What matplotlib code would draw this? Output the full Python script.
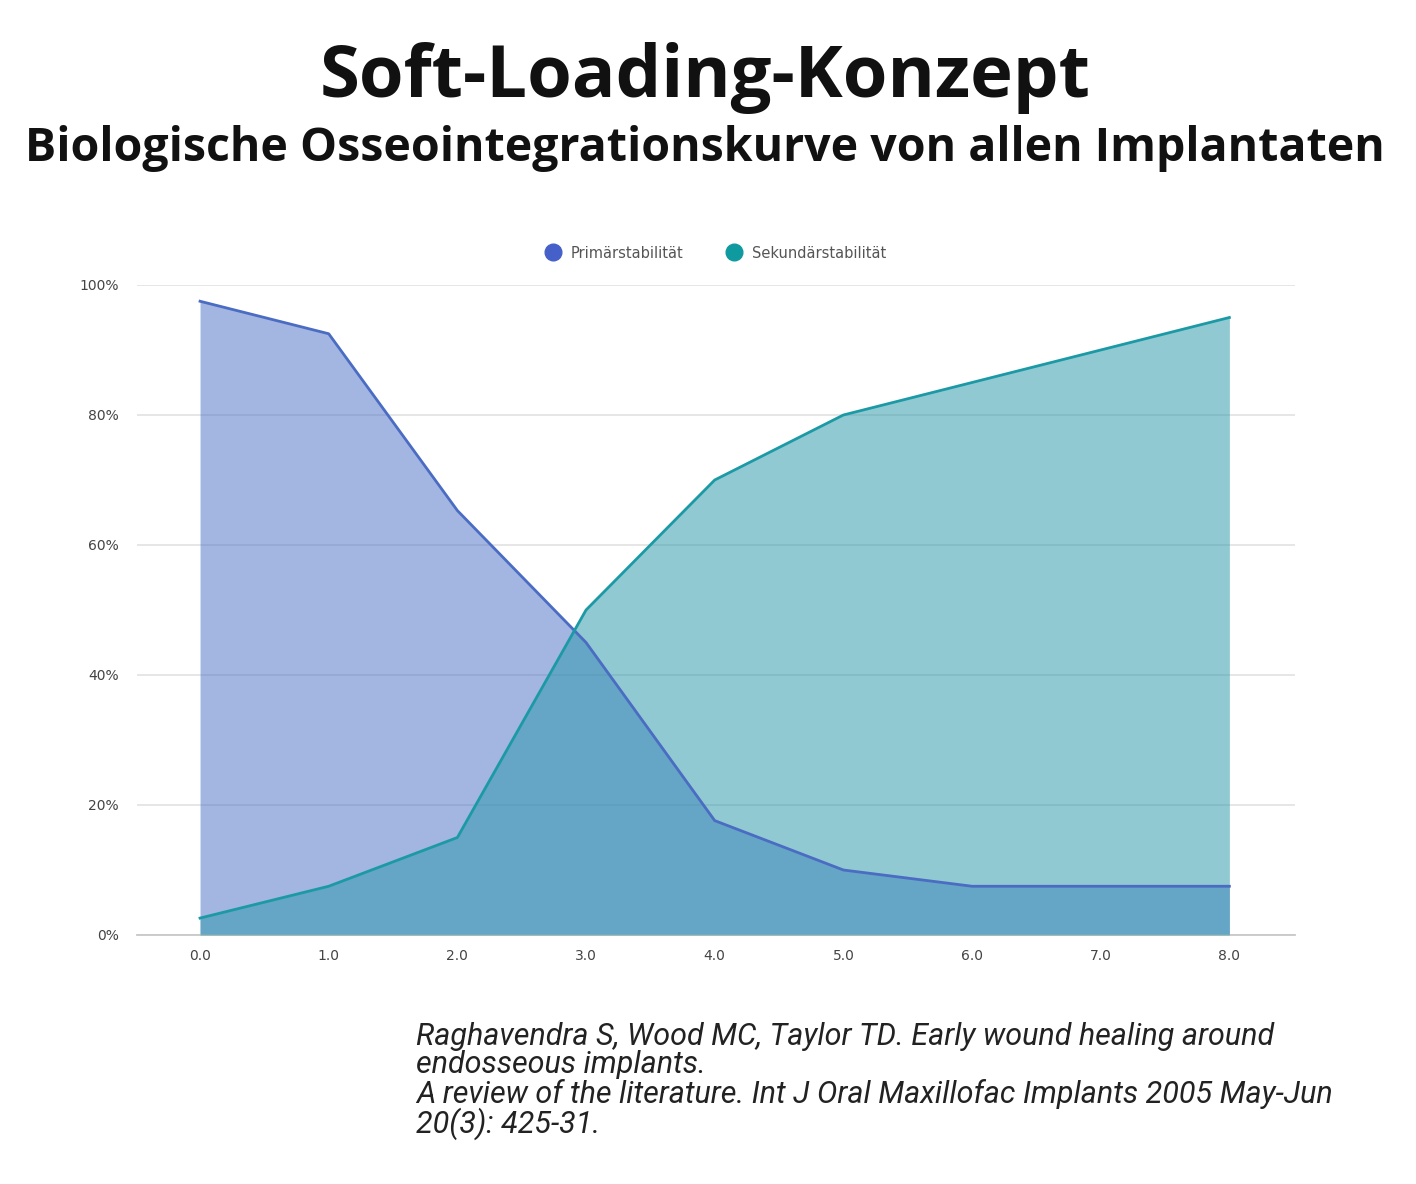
import matplotlib
matplotlib.use("Agg")
import matplotlib.pyplot as plt
from matplotlib.lines import Line2D
from matplotlib.ticker import FuncFormatter

# Data
x_vals = [0.0, 1.0, 2.0, 3.0, 4.0, 5.0, 6.0, 7.0, 8.0]
x_labels = ["0.0", "1.0", "2.0", "3.0", "4.0", "5.0", "6.0", "7.0", "8.0"]
primaer = [97.5, 92.5, 65.3, 45.0, 17.6, 10.0, 7.5, 7.5, 7.5]
sekundaer = [2.6, 7.5, 15.0, 50.0, 70.0, 80.0, 85.0, 90.0, 95.0]
y_ticks = [0, 20, 40, 60, 80, 100]
series_names = ["Primärstabilität", "Sekundärstabilität"]

title = "Soft-Loading-Konzept"
subtitle = "Biologische Osseointegrationskurve von allen Implantaten"
citation = ("Raghavendra S, Wood MC, Taylor TD. Early wound healing around\n"
            "endosseous implants.\n"
            "A review of the literature. Int J Oral Maxillofac Implants 2005 May-Jun\n"
            "20(3): 425-31.")

c_prim = (73/255, 109/255, 197/255)
c_sek = (44/255, 152/255, 172/255)
c_prim_line = "#4a6cc3"
c_sek_line = "#1b9aa5"

fig = plt.figure(figsize=(14.16, 11.84), dpi=100)
ax = fig.add_axes([137/1416, 1 - 935/1184, (1295 - 137)/1416, (935 - 285)/1184])

ax.fill_between(x_vals, primaer, 0, color=c_prim, alpha=0.5, linewidth=0, zorder=2)
ax.fill_between(x_vals, sekundaer, 0, color=c_sek, alpha=0.52, linewidth=0, zorder=3)
ax.plot(x_vals, primaer, color=c_prim_line, linewidth=2, zorder=4)
ax.plot(x_vals, sekundaer, color=c_sek_line, linewidth=2, zorder=5)

ax.set_xlim(-0.49, 8.51)
ax.set_ylim(0, 100)
ax.set_xticks(x_vals)
ax.set_xticklabels(x_labels)
ax.set_yticks(y_ticks)
ax.yaxis.set_major_formatter(FuncFormatter(lambda v, p: f"{int(v)}%"))
ax.grid(axis="y", color="#e4e4e4", linewidth=1.3, zorder=0)
ax.set_axisbelow(True)
for s in ["top", "right", "left"]:
    ax.spines[s].set_visible(False)
ax.spines["bottom"].set_color("#c8c8c8")
ax.spines["bottom"].set_linewidth(1.3)
ax.tick_params(axis="both", length=0, labelsize=10, colors="#444444")
ax.tick_params(axis="y", pad=13)
ax.tick_params(axis="x", pad=10)
for lab in ax.get_xticklabels() + ax.get_yticklabels():
    lab.set_family("DejaVu Sans")

handles = [Line2D([], [], marker="o", linestyle="none", markersize=12,
                  markerfacecolor=c, markeredgecolor=c)
           for c in ["#4560c8", "#0f9a9f"]]
leg = fig.legend(handles, series_names, loc="center", bbox_to_anchor=(712/1416, 1 - 253/1184),
                 ncol=2, frameon=False, handletextpad=0.2, columnspacing=2.5,
                 prop={"family": "DejaVu Sans", "size": 10.5})
for t in leg.get_texts():
    t.set_color("#555555")

fig.text(705/1416, 1 - 78/1184, title, ha="center", va="center",
         fontsize=52, fontweight="bold", family="Open Sans", color="#111111")
fig.text(705/1416, 1 - 148/1184, subtitle, ha="center", va="center",
         fontsize=33.5, fontweight="bold", family="Open Sans", color="#111111")
fig.text(416/1416, 1 - 1022/1184, citation, ha="left", va="top",
         fontsize=22, style="italic", family="Roboto", color="#222222",
         linespacing=0.97)

fig.savefig("out.png", dpi=100, facecolor="white")
